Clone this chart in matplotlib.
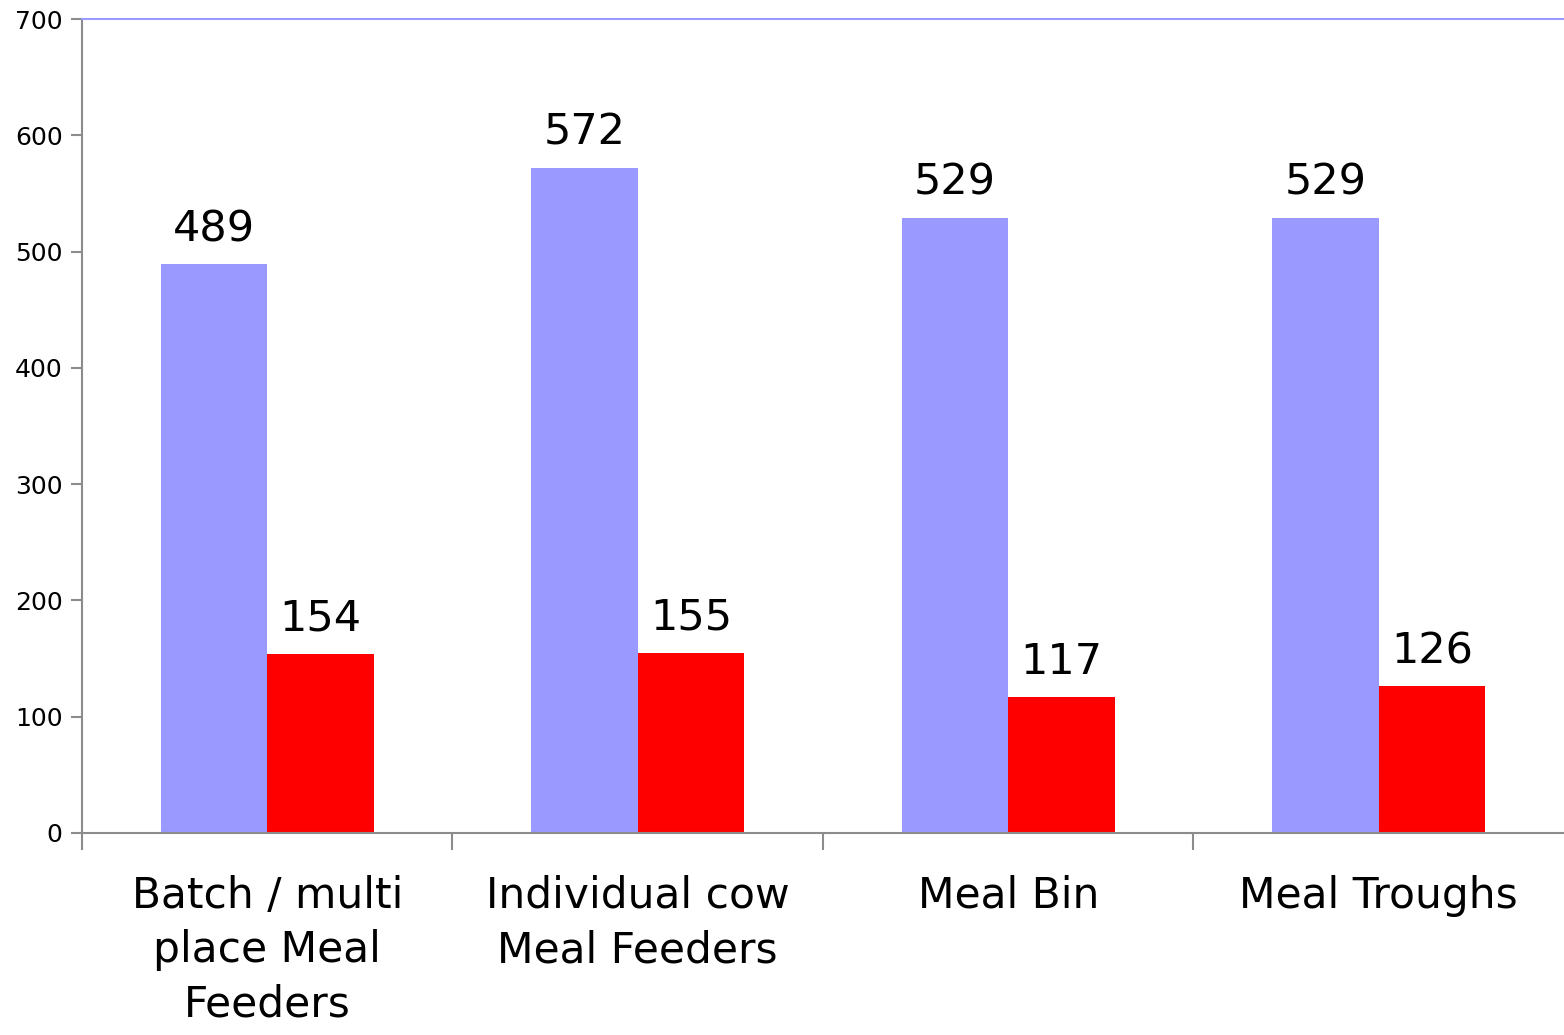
import matplotlib
matplotlib.use("Agg")
import matplotlib.pyplot as plt
import numpy as np

# ========== 数据 ==========
categories = ["Batch / multi\nplace Meal\nFeeders", "Individual cow\nMeal Feeders", "Meal Bin", "Meal Troughs"]
series_blue = [489, 572, 529, 529]
series_red = [154, 155, 117, 126]

BLUE = "#9999FF"
RED = "#FF0000"
GREY = "#8C8C8C"

plt.rcParams["font.family"] = ["DejaVu Sans"]

fig = plt.figure(figsize=(15.64, 10.35), dpi=100)
ax = fig.add_axes([0.0524, 0.1952, 0.9476, 0.7864])

x = np.arange(len(categories))
w = 0.287
ax.bar(x - w / 2, series_blue, width=w, color=BLUE, linewidth=0)
ax.bar(x + w / 2, series_red, width=w, color=RED, linewidth=0)

for xi, v in zip(x, series_blue):
    ax.text(xi - w / 2, v + 12, str(v), ha="center", va="bottom", fontsize=31)
for xi, v in zip(x, series_red):
    ax.text(xi + w / 2, v + 12, str(v), ha="center", va="bottom", fontsize=31)

ax.set_xlim(-0.5, 3.5)
ax.set_ylim(0, 700)
ax.set_yticks(range(0, 701, 100))
ax.tick_params(axis="y", labelsize=18, length=8, width=1.5, color=GREY, pad=6)

# 分隔刻度
ax.set_xticks(np.arange(-0.5, 3.5, 1.0))
ax.set_xticklabels([])
ax.tick_params(axis="x", length=12, width=1.5, color=GREY, direction="out")
for xi, lab in zip(x, categories):
    ax.text(xi, -36, lab, ha="center", va="top", fontsize=30.5, linespacing=1.38)

for s in ["left", "bottom"]:
    ax.spines[s].set_color(GREY)
    ax.spines[s].set_linewidth(1.5)
ax.spines["top"].set_color(BLUE)
ax.spines["top"].set_linewidth(1.5)
ax.spines["right"].set_visible(False)

fig.savefig("out.png", dpi=100)
